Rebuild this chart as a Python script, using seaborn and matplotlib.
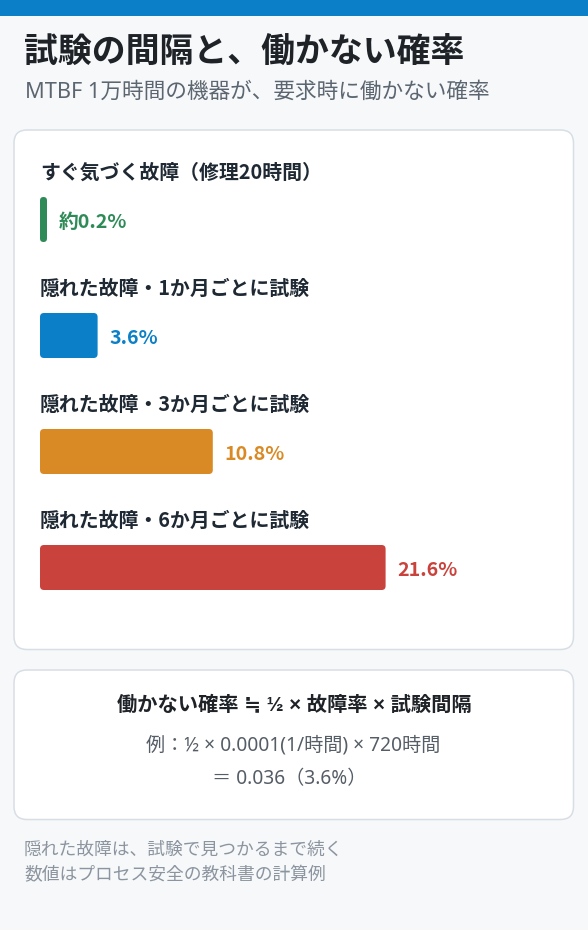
import matplotlib
matplotlib.use("Agg")
import matplotlib.pyplot as plt
from matplotlib.patches import FancyBboxPatch, Rectangle
import numpy as np
import pandas as pd
import seaborn as sns

# data
categories = [
    "すぐ気づく故障（修理20時間）",
    "隠れた故障・1か月ごとに試験",
    "隠れた故障・3か月ごとに試験",
    "隠れた故障・6か月ごとに試験",
]
unavail_pct = [0.2, 3.6, 10.8, 21.6]
value_labels = ["約0.2%", "3.6%", "10.8%", "21.6%"]
bar_colors = ["#2e8b57", "#0b7fc7", "#d98a25", "#c9423c"]

title = "試験の間隔と、働かない確率"
subtitle = "MTBF 1万時間の機器が、要求時に働かない確率"
formula = "働かない確率 ≒ ½ × 故障率 × 試験間隔"
example_1 = "例：½ × 0.0001(1/時間) × 720時間"
example_2 = "＝ 0.036（3.6%）"
notes = ["隠れた故障は、試験で見つかるまで続く", "数値はプロセス安全の教科書の計算例"]

sns.set_theme(style="white")
plt.rcParams['font.family'] = ['Noto Sans CJK JP', 'DejaVu Sans']
# regular text: latin from Noto Sans, Japanese falls through to the CJK family
REG = ['Noto Sans', 'Noto Sans CJK JP', 'DejaVu Sans']
# bold formula: narrow latin × and ½ from Liberation Sans Bold
BOLD_MIX = ['Liberation Sans', 'Noto Sans CJK JP', 'DejaVu Sans']

W, H = 588, 930
BG = "#f6f8fa"
fig = plt.figure(figsize=(W / 100, H / 100), dpi=100, facecolor=BG)

# background layer in pixel coordinates
bg = fig.add_axes([0, 0, 1, 1], zorder=0)
bg.set_xlim(0, W)
bg.set_ylim(H, 0)
bg.axis("off")

bg.add_patch(Rectangle((0, 0), W, 16, color="#0b7fc7", lw=0))
for (y0, y1) in [(130, 649.5), (670, 819.5)]:
    bg.add_patch(FancyBboxPatch((14, y0), 559.5, y1 - y0,
                                boxstyle="round,pad=0,rounding_size=13",
                                fc="white", ec="#d8dee5", lw=1.1))

bg.text(24, 52, title, fontsize=24.4, fontweight="bold", color="#1f2328",
        va="center", ha="left")
bg.text(25, 92, subtitle, fontsize=15.6, color="#5c6670", va="center", ha="left",
        family=REG)

bg.text(294, 705, formula, fontsize=14.6, fontweight="bold", color="#1f2328",
        va="center", ha="center", family=BOLD_MIX)
bg.text(293, 745, example_1, fontsize=13.8, color="#555d66", va="center", ha="center",
        family=REG)
bg.text(289, 779, example_2, fontsize=13.8, color="#555d66", va="center", ha="center",
        family=REG)

for i, line in enumerate(notes):
    bg.text(24, 850 + i * 25, line, fontsize=12.8, color="#8c959f", va="center", ha="left",
            family=REG)

# bar layer: 16 px per percent, 116 px per row
PX_PER_PCT = 16
ROW_PX = 116
left_px, right_px = 40, 548
top_px = 219.5 - ROW_PX / 2
bar_ax = fig.add_axes([left_px / W, 1 - (top_px + 4 * ROW_PX) / H,
                       (right_px - left_px) / W, 4 * ROW_PX / H], zorder=1)
bar_ax.set_facecolor("none")

MIN_BAR = 7 / PX_PER_PCT
df = pd.DataFrame({
    "label": categories,
    "pct": unavail_pct,
    "shown": np.maximum(unavail_pct, MIN_BAR),
})

sns.barplot(data=df, x="shown", y="label", hue="label", palette=bar_colors,
            saturation=1, width=45 / ROW_PX, legend=False, orient="h", ax=bar_ax)
bar_ax.set_xlim(0, (right_px - left_px) / PX_PER_PCT)
bar_ax.set_ylim(3.5, -0.5)
bar_ax.axis("off")

# swap plain rectangles for rounded ones
aspect = PX_PER_PCT / ROW_PX
for p in list(bar_ax.patches):
    x, y, w, h = p.get_x(), p.get_y(), p.get_width(), p.get_height()
    r = min(4 / PX_PER_PCT, w / 2)
    fc = p.get_facecolor()
    p.remove()
    bar_ax.add_patch(FancyBboxPatch((x, y), w, h,
                                    boxstyle=f"round,pad=0,rounding_size={r}",
                                    mutation_aspect=aspect, fc=fc, ec="none"))

for i, row in df.iterrows():
    bar_ax.text(0, i - 47.5 / ROW_PX, row["label"], fontsize=14.3, fontweight="bold",
                color="#1f2933", va="center", ha="left")
    bar_ax.text(row["shown"] + 11.5 / PX_PER_PCT, i + 3 / ROW_PX, value_labels[i],
                fontsize=14.2, fontweight="bold", color=bar_colors[i],
                va="center", ha="left")

fig.savefig("out.png", dpi=100, facecolor=BG)
